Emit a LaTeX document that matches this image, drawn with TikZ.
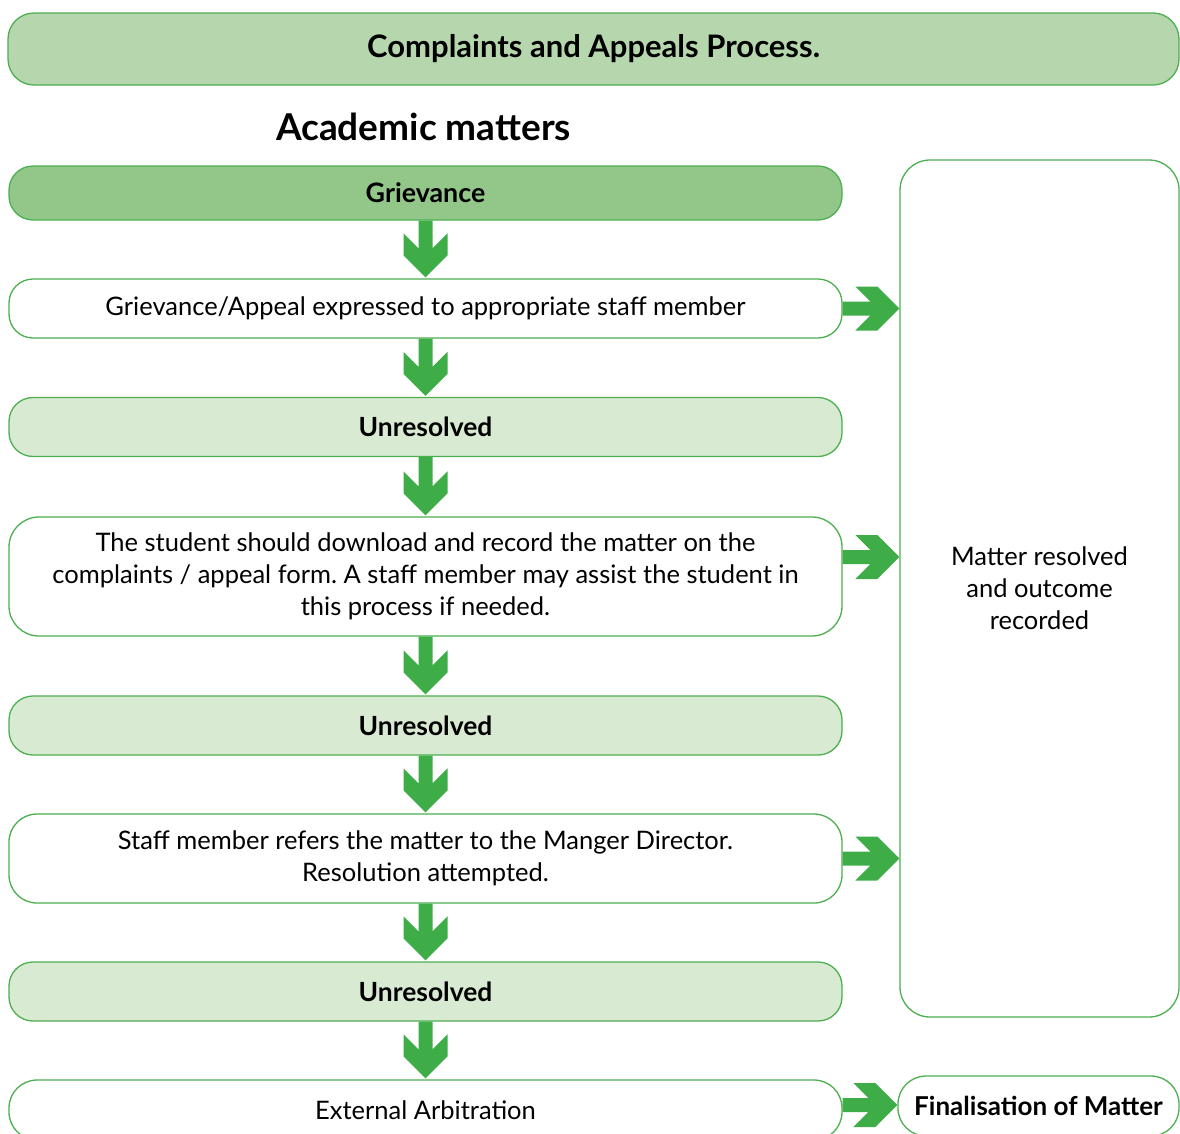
\documentclass[tikz,border=0pt]{standalone}
\usepackage{fontspec}
\setmainfont{Lato}
\usetikzlibrary{calc}
\definecolor{gline}{RGB}{76,175,80}
\definecolor{garrow}{RGB}{62,173,72}
\definecolor{gtitle}{RGB}{182,215,173}
\definecolor{ggriev}{RGB}{147,199,138}
\definecolor{gunres}{RGB}{217,234,211}
\newcommand\dnarrow[2]{%
  \fill[garrow] ($(#1.south)+(-7,0)$) -- ($(#2.north)+(-7,-30)$) -- ($(#2.north)+(-22,-45)$)
   -- ($(#2.north)+(-22,-23)$) -- ($(#2.north)+(0,-1)$) -- ($(#2.north)+(22,-23)$)
   -- ($(#2.north)+(22,-45)$) -- ($(#2.north)+(7,-30)$) -- ($(#1.south)+(7,0)$) -- cycle;}
\newcommand\rtarrow[3]{%
  \fill[garrow] ($(#1.east |- 0,#3)+(0,-7)$) -- ($(#2.west |- 0,#3)+(-29,-7)$)
   -- ($(#2.west |- 0,#3)+(-44,-22)$) -- ($(#2.west |- 0,#3)+(-22,-22)$)
   -- ($(#2.west |- 0,#3)+(0,0)$) -- ($(#2.west |- 0,#3)+(-22,22)$)
   -- ($(#2.west |- 0,#3)+(-44,22)$) -- ($(#2.west |- 0,#3)+(-29,7)$)
   -- ($(#1.east |- 0,#3)+(0,7)$) -- cycle;}
\begin{document}
\frenchspacing
\begin{tikzpicture}[x=1pt,y=-1pt,
  box/.style={draw=gline, line width=1.3pt, rounded corners=24pt, minimum width=833pt,
    align=center, inner sep=0pt, font=\fontsize{25.5}{32}\selectfont},
  unres/.style={box, fill=gunres, minimum height=59pt, font=\fontsize{26.4}{32}\selectfont\bfseries},
  plain/.style={box, fill=white}]
\useasboundingbox (0,0) rectangle (1180,1133);
\clip (0,0) rectangle (1180,1133);
\node[draw=gline, line width=1.3pt, fill=gtitle, rounded corners=26pt, minimum width=1171pt,
  minimum height=72pt, inner sep=0pt, font=\fontsize{31}{36}\selectfont\bfseries] (title) at (593.5,49) {Complaints and Appeals Process.};
\node[font=\fontsize{37}{44}\selectfont\bfseries] (acad) at (423.5,127) {Academic matters};
\node[box, fill=ggriev, minimum height=54pt, font=\fontsize{26.8}{32}\selectfont\bfseries] (g) at (425.5,193) {Grievance};
\node[plain, minimum height=59pt] (b2) at (425.5,308.5) {Grievance/Appeal expressed to appropriate staff member};
\node[unres] (u1) at (425.5,427) {Unresolved};
\node[plain, minimum height=119pt, rounded corners=30pt] (b4) at (425.5,576.5) {The student should download and record the matter on the\\complaints / appeal form. A staff member may assist the student in\\this process if needed.};
\node[unres] (u2) at (425.5,725.5) {Unresolved};
\node[plain, minimum height=89pt, rounded corners=28pt] (b6) at (425.5,858.5) {Staff member refers the matter to the Manger Director.\\Resolution attempted.};
\node[unres] (u3) at (425.5,991.5) {Unresolved};
\node[plain, minimum height=60pt, rounded corners=28pt] (b8) at (425.5,1110) {External Arbitration};
\node[box, minimum width=279pt, minimum height=857pt, rounded corners=30pt] (r) at (1039.5,588.5) {Matter resolved\\and outcome\\recorded};
\node[box, minimum width=281pt, minimum height=60pt, rounded corners=28pt, font=\fontsize{26}{30}\selectfont\bfseries] (fin) at (1038.5,1106) {Finalisation of Matter};
\dnarrow{g}{b2}
\dnarrow{b2}{u1}
\dnarrow{u1}{b4}
\dnarrow{b4}{u2}
\dnarrow{u2}{b6}
\dnarrow{b6}{u3}
\dnarrow{u3}{b8}
\rtarrow{b2}{r}{308.5}
\rtarrow{b4}{r}{557}
\rtarrow{b6}{r}{858.5}
\rtarrow{b8}{fin}{1105}
\end{tikzpicture}
\end{document}
